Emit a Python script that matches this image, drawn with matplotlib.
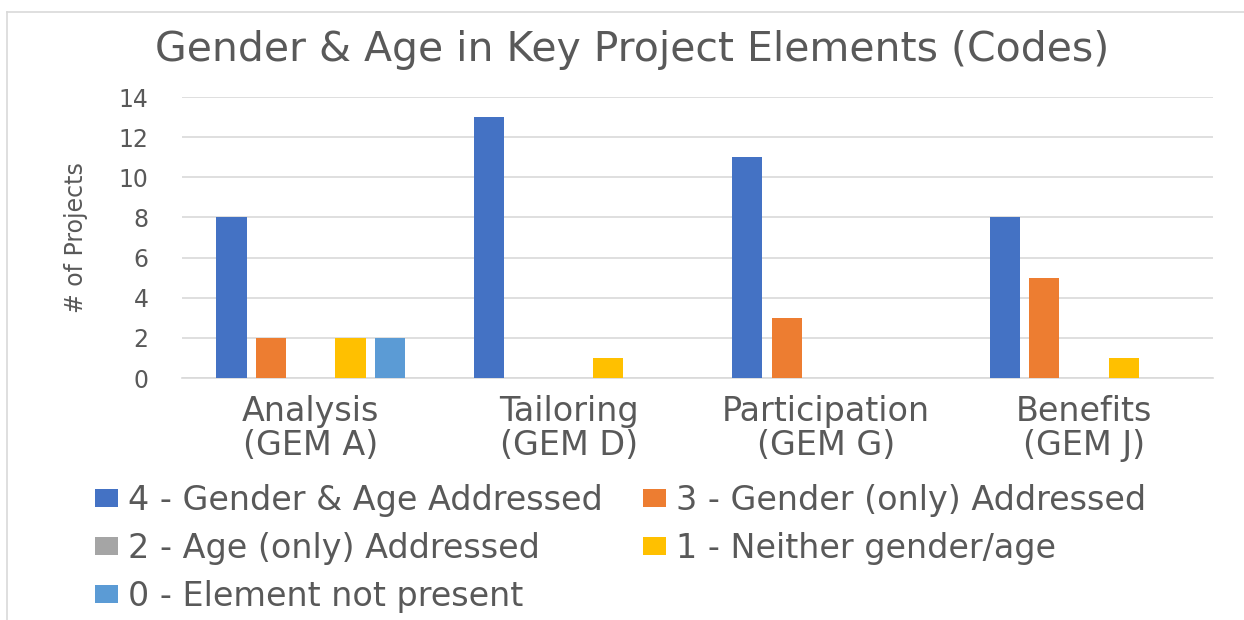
import matplotlib.pyplot as plt
import numpy as np
from matplotlib.lines import Line2D

categories = ['Analysis\n(GEM A)', 'Tailoring\n(GEM D)', 'Participation\n(GEM G)', 'Benefits\n(GEM J)']
series = ['4 - Gender & Age Addressed', '3 - Gender (only) Addressed',
          '2 - Age (only) Addressed', '1 - Neither gender/age', '0 - Element not present']
code4 = [8, 13, 11, 8]
code3 = [2, 0, 3, 5]
code2 = [0, 0, 0, 0]
code1 = [2, 1, 0, 1]
code0 = [2, 0, 0, 0]
colors = ['#4472C4', '#ED7D31', '#A5A5A5', '#FFC000', '#5B9BD5']
text_col = '#595959'

plt.rcParams['font.family'] = ['DejaVu Sans']

fig = plt.figure(figsize=(12.44, 6.2), dpi=100)
ax = fig.add_axes([0.1463, 0.3903, 0.8287, 0.4532])

x = np.arange(len(categories))
pitch = 0.154
bar_w = 0.117
handles = []
for i, vals in enumerate([code4, code3, code2, code1, code0]):
    b = ax.bar(x + (i - 2) * pitch, vals, width=bar_w, color=colors[i], label=series[i], zorder=3)
    handles.append(b)

ax.set_xlim(-0.5, len(categories) - 0.5)
ax.set_ylim(0, 14)
ax.set_yticks(range(0, 15, 2))
ax.set_xticks(x)
ax.set_xticklabels(categories, fontsize=24, color=text_col, linespacing=1.05)
ax.tick_params(axis='y', length=0, pad=24, labelsize=17, labelcolor=text_col)
ax.tick_params(axis='x', length=0, pad=12)
ax.grid(axis='y', color='#D9D9D9', linewidth=1.2, zorder=0)
for s in ['top', 'right', 'left']:
    ax.spines[s].set_visible(False)
ax.spines['bottom'].set_color('#D9D9D9')
ax.spines['bottom'].set_linewidth(1.2)

ax.set_ylabel('# of Projects', fontsize=17, color=text_col, labelpad=22)

fig.text(0.508, 0.919, 'Gender & Age in Key Project Elements (Codes)',
         ha='center', va='center', fontsize=29.5, color=text_col)

# row-major ordering for a 2-column legend
order = [0, 2, 4, 1, 3]
fig.legend([handles[k] for k in order], [series[k] for k in order],
           ncol=2, loc='upper left', bbox_to_anchor=(0.0764, 0.219), frameon=False,
           fontsize=24, labelcolor=text_col, handlelength=0.7, handleheight=0.45,
           handletextpad=0.3, columnspacing=1.2, labelspacing=0.45,
           borderaxespad=0, borderpad=0)

# chart border fragments
fig.add_artist(Line2D([0.006, 1.0], [0.981, 0.981], color='#D9D9D9', lw=1.2))
fig.add_artist(Line2D([0.006, 0.006], [0.0, 0.981], color='#D9D9D9', lw=1.2))

fig.savefig('out.png', dpi=100)
